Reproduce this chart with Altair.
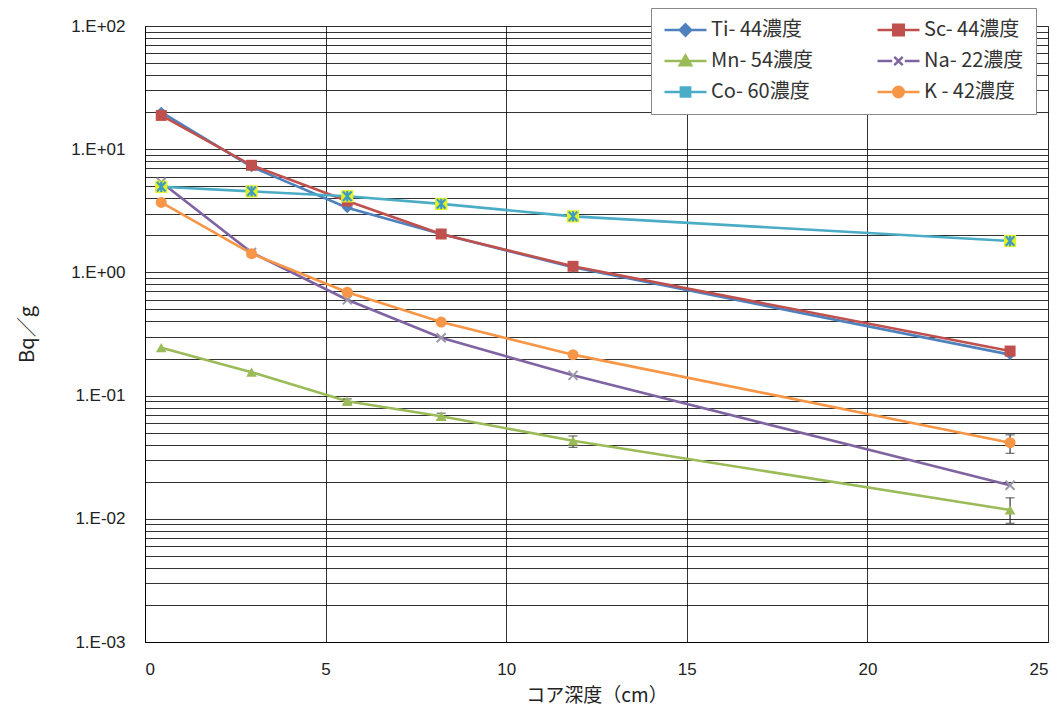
import altair as alt
import pandas as pd

# ---- data ----
series_names = ["Ti- 44濃度", "Sc- 44濃度", "Mn- 54濃度", "Na- 22濃度", "Co- 60濃度", "K - 42濃度"]
series_colors = ["#4F81BD", "#C0504D", "#9BBB59", "#8064A2", "#4BACC6", "#F79646"]

depth = [0.45, 2.95, 5.6, 8.2, 11.85, 23.95]
ti44 = [20.0, 7.2, 3.35, 2.05, 1.1, 0.215]
sc44 = [18.8, 7.4, 3.8, 2.05, 1.12, 0.23]
mn54 = [0.245, 0.155, 0.09, 0.068, 0.043, 0.0118]
na22 = [5.4, 1.45, 0.6, 0.295, 0.146, 0.0187]
co60 = [4.95, 4.55, 4.15, 3.6, 2.85, 1.8]
k42 = [3.7, 1.42, 0.69, 0.395, 0.215, 0.0415]

# error bars (series, depth, low, high)
err_series = ["Mn- 54濃度", "Mn- 54濃度", "Mn- 54濃度", "Mn- 54濃度", "K - 42濃度"]
err_depth = [5.6, 8.2, 11.85, 23.95, 23.95]
err_low = [0.086, 0.064, 0.038, 0.0092, 0.034]
err_high = [0.094, 0.072, 0.047, 0.0148, 0.048]

y_tick_mantissa = [1, 2, 3, 4, 5, 6, 7, 8, 9]
y_tick_exponents = [-3, -2, -1, 0, 1]
x_ticks = [0, 5, 10, 15, 20, 25]

# legend symbols: short line with the series marker on it
legend_paths = [
    "M-1,0H1M0,-0.27L0.27,0L0,0.27L-0.27,0Z",
    "M-1,0H1M-0.25,-0.25H0.25V0.25H-0.25Z",
    "M-1,0H1M0,-0.26L0.27,0.2H-0.27Z",
    "M-1,0H-0.3M0.3,0H1M-0.2,-0.2L0.2,0.2M-0.2,0.2L0.2,-0.2",
    "M-1,0H1M-0.22,-0.22H0.22V0.22H-0.22Z",
    "M-1,0H1M0.25,0A0.25,0.25,0,1,1,-0.25,0A0.25,0.25,0,1,1,0.25,0Z",
]

# ---- tables ----
values = [ti44, sc44, mn54, na22, co60, k42]
rows = []
for name, vals in zip(series_names, values):
    for d, v in zip(depth, vals):
        rows.append({"series": name, "depth": d, "value": v})
df = pd.DataFrame(rows)
err_df = pd.DataFrame({"series": err_series, "depth": err_depth, "lo": err_low, "hi": err_high})

y_values = [m * 10.0 ** e for e in y_tick_exponents for m in y_tick_mantissa] + [100.0]

JP = "Noto Sans CJK JP"
LAT = "Liberation Sans"
YTITLE = "Bq／g"

label_expr = (
    "abs(log(datum.value)/LN10 - round(log(datum.value)/LN10)) < 0.001 ? "
    "'1.E' + (round(log(datum.value)/LN10) < 0 ? '-' : '+') + '0' + abs(round(log(datum.value)/LN10)) : ''"
)

x_enc = alt.X("depth:Q", scale=alt.Scale(domain=[0, 25], nice=False, zero=False),
              axis=alt.Axis(values=x_ticks, grid=True, gridColor="#000", gridOpacity=0.8,
                            gridWidth=1, ticks=False, domainColor="#000", domainWidth=1,
                            labelFont=LAT, labelFontSize=17, labelColor="#222", labelPadding=19,
                            title="コア深度（cm）", titleFont=JP, titleFontSize=19,
                            titleFontWeight="normal", titleColor="#222", titlePadding=9))
y_enc = alt.Y("value:Q", scale=alt.Scale(type="log", domain=[0.001, 100], nice=False),
              axis=alt.Axis(values=y_values, labelExpr=label_expr, grid=True, gridColor="#000",
                            gridOpacity=0.8, gridWidth=1, ticks=False, domainColor="#000",
                            domainWidth=1, labelFont=LAT, labelFontSize=17, labelColor="#222",
                            labelPadding=20, labelOverlap=False, labelBound=False,
                            title=YTITLE, titleFont=JP, titleFontSize=20,
                            titleFontWeight="normal", titleColor="#222", titlePadding=33))

color_scale = alt.Scale(domain=series_names, range=series_colors)

legend = alt.Legend(
    title=None, orient="none", legendX=506, legendY=-18, columns=2, direction="horizontal",
    symbolSize=1764, symbolStrokeWidth=2.5, clipHeight=20, rowPadding=11,
    columnPadding=62, labelOffset=3, labelFont=JP, labelFontSize=20, labelColor="#333",
    labelLimit=200, padding=12, fillColor="#fff", strokeColor="#888", symbolOpacity=1,
)

lines = alt.Chart(df).mark_line(strokeWidth=2.6).encode(
    x=x_enc, y=y_enc,
    stroke=alt.Stroke("series:N", scale=color_scale, legend=legend, sort=series_names),
    order="depth:Q",
)

legend_layer = alt.Chart(df).transform_filter("false").mark_point(filled=True).encode(
    x="depth:Q", y=alt.Y("value:Q", title=YTITLE),
    fill=alt.Fill("series:N", scale=color_scale, legend=legend, sort=series_names),
    stroke=alt.Stroke("series:N", scale=color_scale, legend=legend, sort=series_names),
    shape=alt.Shape("series:N", scale=alt.Scale(domain=series_names, range=legend_paths),
                    legend=legend, sort=series_names),
)

err = alt.Chart(err_df).mark_errorbar(ticks=alt.MarkConfig(size=9, color="#333"), color="#333",
                                      thickness=1.2).encode(
    x=alt.X("depth:Q"), y=alt.Y("lo:Q", title=YTITLE), y2="hi:Q")


def pts(name, shape, size, fill=None, stroke=None, sw=0):
    sub = df[df["series"] == name]
    if stroke is None:
        m = alt.Chart(sub).mark_point(shape=shape, size=size, opacity=1, filled=True,
                                      fill=fill, strokeWidth=0)
    else:
        m = alt.Chart(sub).mark_point(shape=shape, size=size, opacity=1, filled=False,
                                      stroke=stroke, strokeWidth=sw)
    return m.encode(x="depth:Q", y=alt.Y("value:Q", title=YTITLE))


xpath = "M-1,-1L1,1M-1,1L1,-1"
copath = "M-0.9,-1L0.9,1M-0.9,1L0.9,-1M0,-1.1V1.1"

marks = [
    pts("Ti- 44濃度", "diamond", 120, fill="#4F81BD"),
    pts("Sc- 44濃度", "square", 121, fill="#C0504D"),
    pts("Mn- 54濃度", "triangle-up", 115, fill="#9BBB59"),
    pts("Na- 22濃度", xpath, 81, stroke="#9a9aa8", sw=2),
    pts("Co- 60濃度", "square", 150, fill="#E4F022"),
    pts("Co- 60濃度", copath, 90, stroke="#3C9CC4", sw=2.2),
    pts("K - 42濃度", "circle", 121, fill="#F79646"),
]

chart = alt.layer(lines, err, *marks, legend_layer).properties(
    width=903, height=616,
    autosize=alt.AutoSizeParams(type="none"),
    padding={"left": 137, "top": 18, "right": 6, "bottom": 72},
).configure_view(stroke="#000", strokeWidth=1).configure(background="#fff")

chart.save("out.html", embed_options={"renderer": "svg", "actions": False})
